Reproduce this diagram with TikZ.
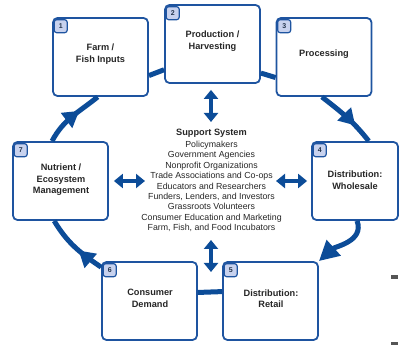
\documentclass[tikz,border=0pt]{standalone}
\usepackage{fontspec}
\setmainfont{Liberation Sans}
\usetikzlibrary{arrows.meta,decorations.markings,calc}

\definecolor{ringblue}{RGB}{12,76,152}
\definecolor{boxblue}{RGB}{30,84,160}
\definecolor{badgefill}{RGB}{200,210,238}
\definecolor{txt}{RGB}{38,38,38}
\definecolor{markgray}{RGB}{85,85,85}

\begin{document}
\begin{tikzpicture}[x=1pt,y=1pt,
  stage/.style={draw=boxblue, line width=1.8pt, rounded corners=4.5pt, fill=white,
                minimum width=95pt, minimum height=78pt, inner sep=0pt},
  stagetext/.style={font=\fontsize{9.2}{11.5}\selectfont\bfseries, text=txt, align=center, inner sep=0pt},
  badge/.style={draw=boxblue, line width=1.2pt, fill=badgefill, rounded corners=2.5pt,
                minimum size=13pt, inner sep=0pt, anchor=north west,
                font=\fontsize{7}{7}\selectfont\bfseries, text=txt!70!boxblue},
  ring/.style={color=ringblue, line width=5pt},
  ringtip/.style={postaction={decorate}, decoration={markings,
      mark=at position #1 with {\arrow{Triangle[length=16pt,width=18pt]}}}},
  dbl/.style={color=ringblue, line width=3.5pt,
      {Triangle[length=9pt,width=14pt]}-{Triangle[length=9pt,width=14pt]}},
  supporttext/.style={font=\fontsize{8.8}{10.4}\selectfont, text=txt, align=center, inner sep=0pt},
]
\useasboundingbox (0,0) rectangle (400,-345);

% stage boxes
\node[stage] (b1) at (100.5,-57) {};
\node[stage] (b2) at (212.5,-44) {};
\node[stage] (b3) at (324,-57) {};
\node[stage, minimum width=86pt] (b4) at (355,-181) {};
\node[stage] (b5) at (270.5,-301) {};
\node[stage] (b6) at (149.5,-301) {};
\node[stage] (b7) at (60.5,-181) {};

% ring of arrows between the stages
\draw[ring] (b1.-21.8) -- (b2.208.7);
\draw[ring] (b2.-31.4) -- (b3.-157.4);
\draw[ring, ringtip=0.68] (b3.267) to[out=-38, in=128] (b4.71.6);
\draw[ring, -{Triangle[length=20pt,width=20pt]}] (b4.-87) to[out=-70, in=42] (b5.north east);
\draw[ring] (b5.169.3) -- (b6.10.7);
\draw[ring, ringtip=0.42] (b6.145.2) to[out=146, in=-59] (b7.261.5);
\draw[ring, ringtip=0.64] (b7.102.3) to[out=62, in=-141] (b1.266.2);

% stage labels
\node[stagetext] (t1) at (100.5,-54) {Farm /\\Fish Inputs};
\node[stagetext] (t2) at (212.5,-41) {Production /\\Harvesting};
\node[stagetext] (t3) at (324,-54) {Processing};
\node[stagetext] (t4) at (355,-180) {Distribution:\\Wholesale};
\node[stagetext] (t5) at (271,-298.5) {Distribution:\\Retail};
\node[stagetext] (t6) at (150,-298.5) {Consumer\\Demand};
\node[stagetext] (t7) at (61,-180) {Nutrient /\\Ecosystem\\Management};

% numbered badges
\node[badge] (n1) at ($(b1.north west)+(1.5,-2)$) {1};
\node[badge] (n2) at ($(b2.north west)+(1.5,-2)$) {2};
\node[badge] (n3) at ($(b3.north west)+(1.5,-2)$) {3};
\node[badge] (n4) at ($(b4.north west)+(1.5,-2)$) {4};
\node[badge] (n5) at ($(b5.north west)+(1.5,-2)$) {5};
\node[badge] (n6) at ($(b6.north west)+(1.5,-2)$) {6};
\node[badge] (n7) at ($(b7.north west)+(1.5,-2)$) {7};

% support system in the middle
\node[supporttext, anchor=north] (support) at (211.5,-128.5) {%
  {\fontsize{9.2}{10.4}\selectfont\bfseries Support System}\\[2pt]
  Policymakers\\
  Government Agencies\\
  Nonprofit Organizations\\
  Trade Associations and Co-ops\\
  Educators and Researchers\\
  Funders, Lenders, and Investors\\
  Grassroots Volunteers\\
  Consumer Education and Marketing\\
  Farm, Fish, and Food Incubators};

% two-way links to the support system
\coordinate (vtop) at (211,-122);
\coordinate (vbot) at (211,-240);
\coordinate (hleft) at (145,-181);
\coordinate (hright) at (276,-181);
\coordinate (vbotend) at (211,-272);
\draw[dbl] (b2.south -| vtop) ++(0,-6) -- (vtop);
\draw[dbl] (vbot) -- (vbotend);
\draw[dbl, shorten <=5pt] (b7.east) -- (hleft);
\draw[dbl, shorten >=4pt] (hright) -- (b4.west);

% small marks at the right edge
\fill[markgray] (391,-275) rectangle (398,-279);
\fill[markgray] (391,-342) rectangle (398,-345);
\end{tikzpicture}
\end{document}
